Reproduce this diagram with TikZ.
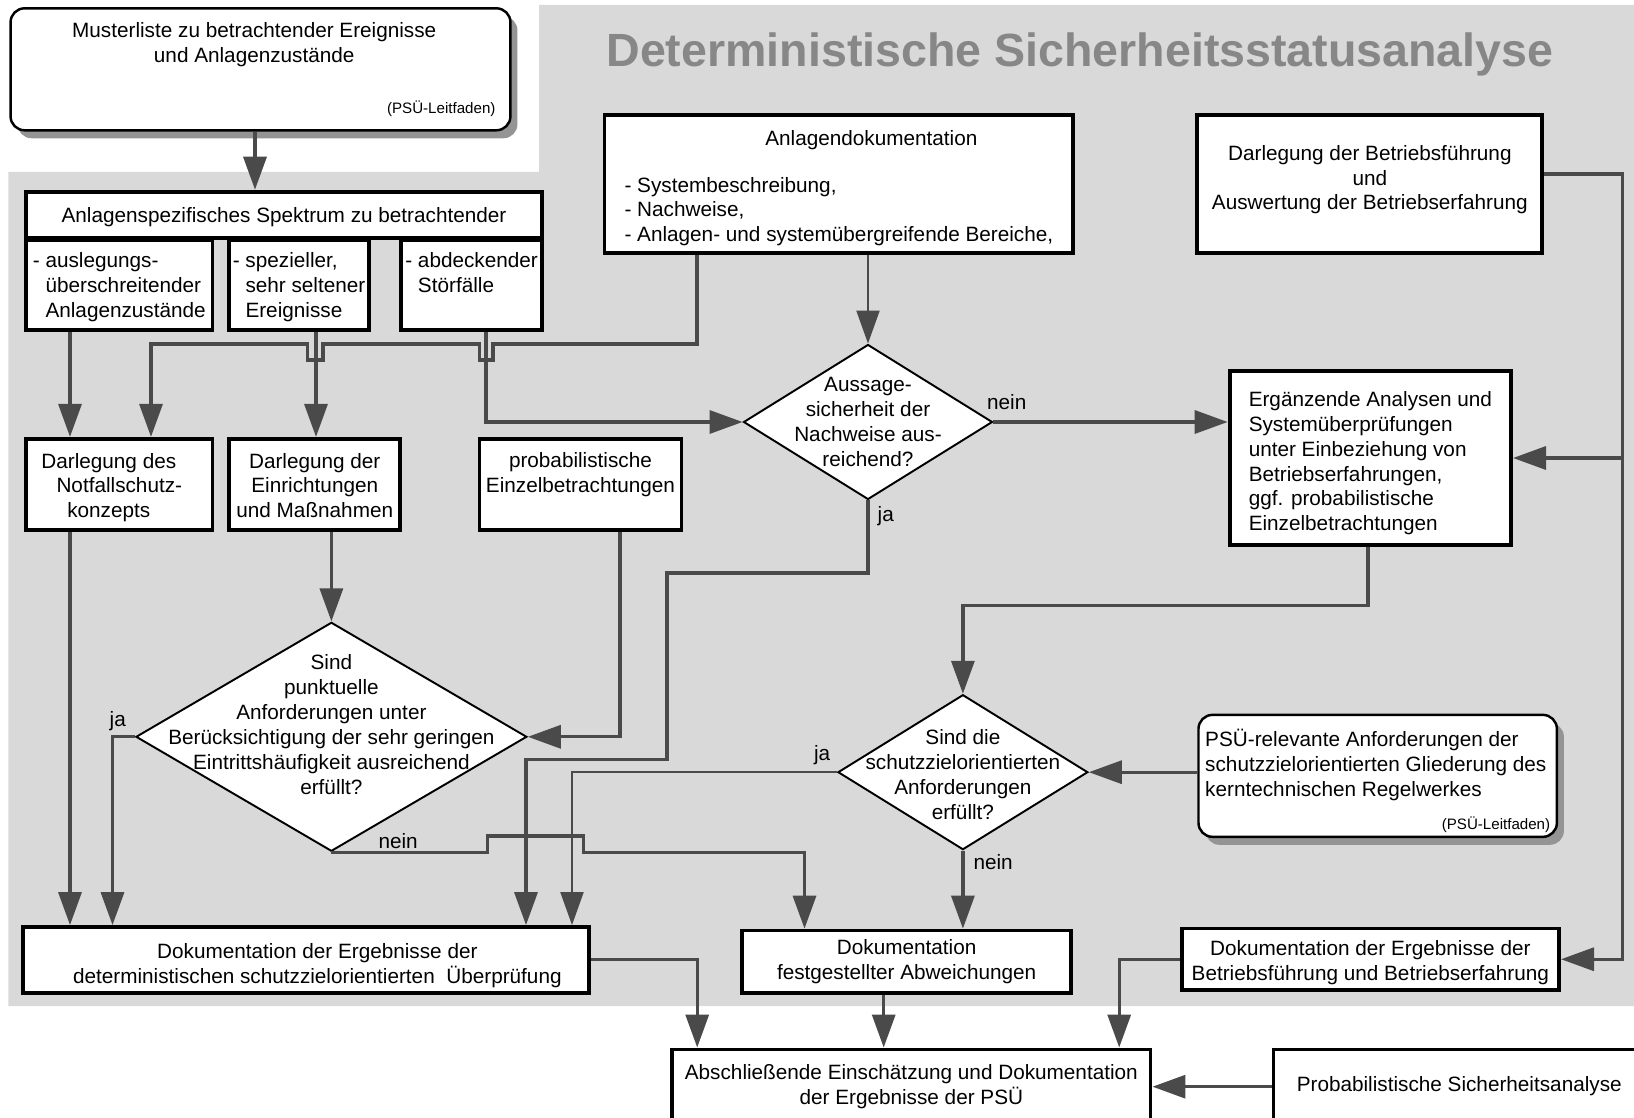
\documentclass[tikz,border=0pt]{standalone}
\usepackage{fontspec}
\setmainfont{Liberation Sans}
\usetikzlibrary{arrows.meta,shapes.geometric,shadows}
\definecolor{bggray}{HTML}{D9D9D9}
\definecolor{linegray}{HTML}{4A4A4A}
\definecolor{titlegray}{HTML}{878787}
\newcommand\boxfont{\fontsize{11.8}{14.2}\selectfont}
\newcommand\notefont{\fontsize{8.6}{10}\selectfont}
\newcommand\topstrut[1]{\rule{0pt}{#1}}
\newcommand\botstrut[1]{\rule[-#1]{0pt}{#1}}
\tikzset{
  docbox/.style={
    draw=black,
    line width=2.2pt,
    fill=white,
    inner sep=1pt,
    align=center,
    font=\boxfont
  },
  notebox/.style={
    draw=black,
    line width=1.4pt,
    fill=white,
    rounded corners=8pt,
    inner sep=0pt,
    font=\boxfont,
    drop shadow={shadow xshift=0.14cm, shadow yshift=-0.16cm, fill=black!42, opacity=1}
  },
  decision/.style={
    diamond,
    draw=black,
    line width=1.1pt,
    fill=white,
    inner sep=-3cm,
    align=center,
    font=\boxfont
  },
  flow/.style={
    draw=linegray,
    line width=1.9pt,
    -{Triangle[length=0.66cm,width=0.46cm]}
  },
  thinflow/.style={flow, line width=1.2pt},
  answer/.style={font=\boxfont, inner sep=0pt}
}
\begin{document}
\begin{tikzpicture}[x=0.02cm,y=-0.02cm]
\useasboundingbox (0,0) rectangle (1634,1118);
\clip (0,0) rectangle (1634,1118);
\fill[bggray] (8.3,172) -- (539,172) -- (539,5) -- (1634,5) -- (1634,1006) -- (8.3,1006) -- cycle;
\node[font=\fontsize{26.5}{30}\selectfont\bfseries, text=titlegray, inner sep=0pt] (title) at (1080,54) {Deterministische Sicherheitsstatusanalyse};

\node[notebox, minimum width=10.0cm, minimum height=2.44cm] (muster) at (260.5,69.3) {\parbox[c][1.89cm][t]{9.4cm}{\centering\hspace*{-0.25cm}Musterliste zu betrachtender Ereignisse\\\hspace*{-0.25cm}und Anlagenzustände\par\vfill\raggedleft{\notefont (PSÜ-Leitfaden)}}};
\node[docbox, minimum width=10.32cm, minimum height=0.92cm] (spek) at (284,214.65) {\topstrut{12.4pt}Anlagenspezifisches Spektrum zu betrachtender\botstrut{4pt}};
\node[docbox, align=left, minimum width=3.73cm, minimum height=1.81cm] (spa) at (119.3,285) {\topstrut{13pt}- auslegungs-\\\hphantom{- }überschreitender\\\hphantom{- }Anlagenzustände\botstrut{4pt}};
\node[docbox, align=left, minimum width=2.79cm, minimum height=1.81cm] (spb) at (299.1,285) {\topstrut{13pt}- spezieller,\\\hphantom{- }sehr seltener\\\hphantom{- }Ereignisse\botstrut{4pt}};
\node[docbox, align=left, minimum width=2.82cm, minimum height=1.81cm] (spc) at (471.6,285) {\topstrut{13pt}- abdeckender\\\hphantom{- }Störfälle\\\botstrut{4pt}};
\node[docbox, minimum width=9.38cm, minimum height=2.77cm] (anldok) at (838.9,183.9) {\begin{tabular}{@{}l@{}}
\multicolumn{1}{@{}c@{}}{\rule{0pt}{15.2pt}\hspace*{1.3cm}Anlagendokumentation}\\[0.44cm]
- Systembeschreibung,\\
- Nachweise,\\
- Anlagen- und systemübergreifende Bereiche,
\end{tabular}};
\node[docbox, minimum width=6.9cm, minimum height=2.77cm] (betrdar) at (1369.85,183.9) {\topstrut{9pt}Darlegung der Betriebsführung\\ und\\ Auswertung der Betriebserfahrung\botstrut{7.7pt}};
\node[decision, minimum width=4.98cm, minimum height=3.1cm] (aussage) at (868,422) {Aussage-\\ sicherheit der\\ Nachweise aus-\\ reichend?};
\node[docbox, align=left, minimum width=5.63cm, minimum height=3.48cm] (ergaenz) at (1370.35,458) {\topstrut{16pt}Ergänzende Analysen und\\ Systemüberprüfungen\\ unter Einbeziehung von\\ Betriebserfahrungen,\\ ggf. probabilistische\\ Einzelbetrachtungen\botstrut{4pt}};
\node[docbox, minimum width=3.73cm, minimum height=1.83cm] (notfall) at (119.3,484.55) {\topstrut{13.6pt}Darlegung des\hspace*{0.42cm}\\ Notfallschutz-\hspace*{0.42cm}\\ konzepts\hspace*{0.42cm}\botstrut{4pt}};
\node[docbox, minimum width=3.42cm, minimum height=1.83cm] (einricht) at (314.75,484.55) {\topstrut{13.6pt}Darlegung der\\ Einrichtungen\\ und Maßnahmen\botstrut{4pt}};
\node[docbox, minimum width=4.04cm, minimum height=1.83cm] (probeinz) at (580.45,484.55) {\topstrut{13pt}probabilistische\\ Einzelbetrachtungen\\ \botstrut{4pt}};
\node[decision, minimum width=7.82cm, minimum height=4.58cm] (punkt) at (331.4,736.8) {Sind\\ punktuelle\\ Anforderungen unter\\ Berücksichtigung der sehr geringen\\ Eintrittshäufigkeit ausreichend\\ erfüllt?\\ \mbox{}};
\node[decision, minimum width=5.0cm, minimum height=3.1cm] (schutz) at (962.9,772.2) {\topstrut{11.6pt}Sind die\\ schutzzielorientierten\\ Anforderungen\\ erfüllt?};
\node[notebox, minimum width=7.17cm, minimum height=2.44cm] (psureq) at (1377.7,775.85) {\parbox[c][1.88cm][t]{6.9cm}{\raggedright PSÜ-relevante Anforderungen der\\ schutzzielorientierten Gliederung des\\ kerntechnischen Regelwerkes\par\vfill\raggedleft{\notefont (PSÜ-Leitfaden)}\par\vspace*{-0.19cm}}};
\node[docbox, minimum width=11.32cm, minimum height=1.21cm] (dokdet) at (305.85,959.8) {\topstrut{17.1pt}\hspace*{0.46cm}Dokumentation der Ergebnisse der\\\hspace*{0.46cm}deterministischen schutzzielorientierten\ \ Überprüfung\botstrut{4pt}};
\node[docbox, minimum width=6.59cm, minimum height=1.25cm] (dokabw) at (906.65,961.8) {\topstrut{10pt}Dokumentation\\ festgestellter Abweichungen\botstrut{4pt}};
\node[docbox, minimum width=7.55cm, minimum height=1.23cm] (dokbetr) at (1370.35,959.25) {\topstrut{13.6pt}Dokumentation der Ergebnisse der\\ Betriebsführung und Betriebserfahrung\botstrut{4pt}};
\node[docbox, minimum width=9.57cm, minimum height=1.49cm] (absch) at (911.35,1086.7) {\topstrut{9.7pt}Abschließende Einschätzung und Dokumentation\\ der Ergebnisse der PSÜ\botstrut{4pt}};
\node[docbox, minimum width=7.43cm, minimum height=1.49cm] (psa) at (1459.25,1086.7) {\topstrut{9pt}Probabilistische Sicherheitsanalyse\botstrut{4pt}};

\draw[flow] (muster.south -| 255,0) -- (spek.north -| 255,0);
\draw[flow] (spa.south -| 70,0) -- (notfall.north -| 70,0);
\draw[flow] (697,0 |- anldok.south) -- (697,344) -- (493,344) -- (493,360) -- (479.5,360) -- (479.5,344) -- (323,344) -- (323,360) -- (307.5,360) -- (307.5,344) -- (151,344) -- (notfall.north -| 151,0);
\draw[flow] (spb.south -| 316,0) -- (einricht.north -| 316,0);
\draw[flow] (spc.south -| 486,0) |- (aussage.west);
\draw[thinflow] (aussage.north |- anldok.south) -- (aussage.north);
\draw[flow] (aussage.east) -- (aussage.east -| ergaenz.west);
\draw[flow] (aussage.south) |- (667,573) |- (526,759.7) -- (dokdet.north -| 526,0);
\draw[thinflow] (schutz.west) -| (dokdet.north -| 572,0);
\draw[flow] (punkt.west) -| (dokdet.north -| 112.5,0);
\draw[flow] (notfall.south -| 70,0) -- (dokdet.north -| 70,0);
\draw[flow] (punkt.north |- einricht.south) -- (punkt.north);
\draw[flow] (probeinz.south -| 620,0) |- (punkt.east);
\draw[flow] (punkt.south) -- (487.7,0 |- punkt.south) -- (487.7,836) -- (583.6,836) -- (583.6,0 |- punkt.south) -| (dokabw.north -| 804.5,0);
\draw[flow] (1368,0 |- ergaenz.south) |- (schutz.north |- 0,605.5) -- (schutz.north);
\draw[flow] (schutz.south) -- (schutz.south |- dokabw.north);
\draw[flow] (psureq.west |- schutz.east) -- (schutz.east);
\draw[flow] (betrdar.east |- 0,174) -| (1622.5,0 |- dokbetr.east) -- (dokbetr.east);
\draw[flow] (1622.5,0 |- ergaenz.east) -- (ergaenz.east);
\draw[flow] (dokdet.east) -| (absch.north -| 697.2,0);
\draw[flow] (dokabw.south -| 883.7,0) -- (absch.north -| 883.7,0);
\draw[flow] (dokbetr.west) -| (absch.north -| 1119.2,0);
\draw[flow] (psa.west) -- (psa.west -| absch.east);

\node[answer] (neinA) at (1006.7,402.3) {nein};
\node[answer] (jaA) at (885.8,515.8) {ja};
\node[answer] (jaP) at (117.8,721.1) {ja};
\node[answer] (neinP) at (398.1,841) {nein};
\node[answer] (jaS) at (822.2,755.5) {ja};
\node[answer] (neinS) at (993.1,861.8) {nein};
\end{tikzpicture}
\end{document}
